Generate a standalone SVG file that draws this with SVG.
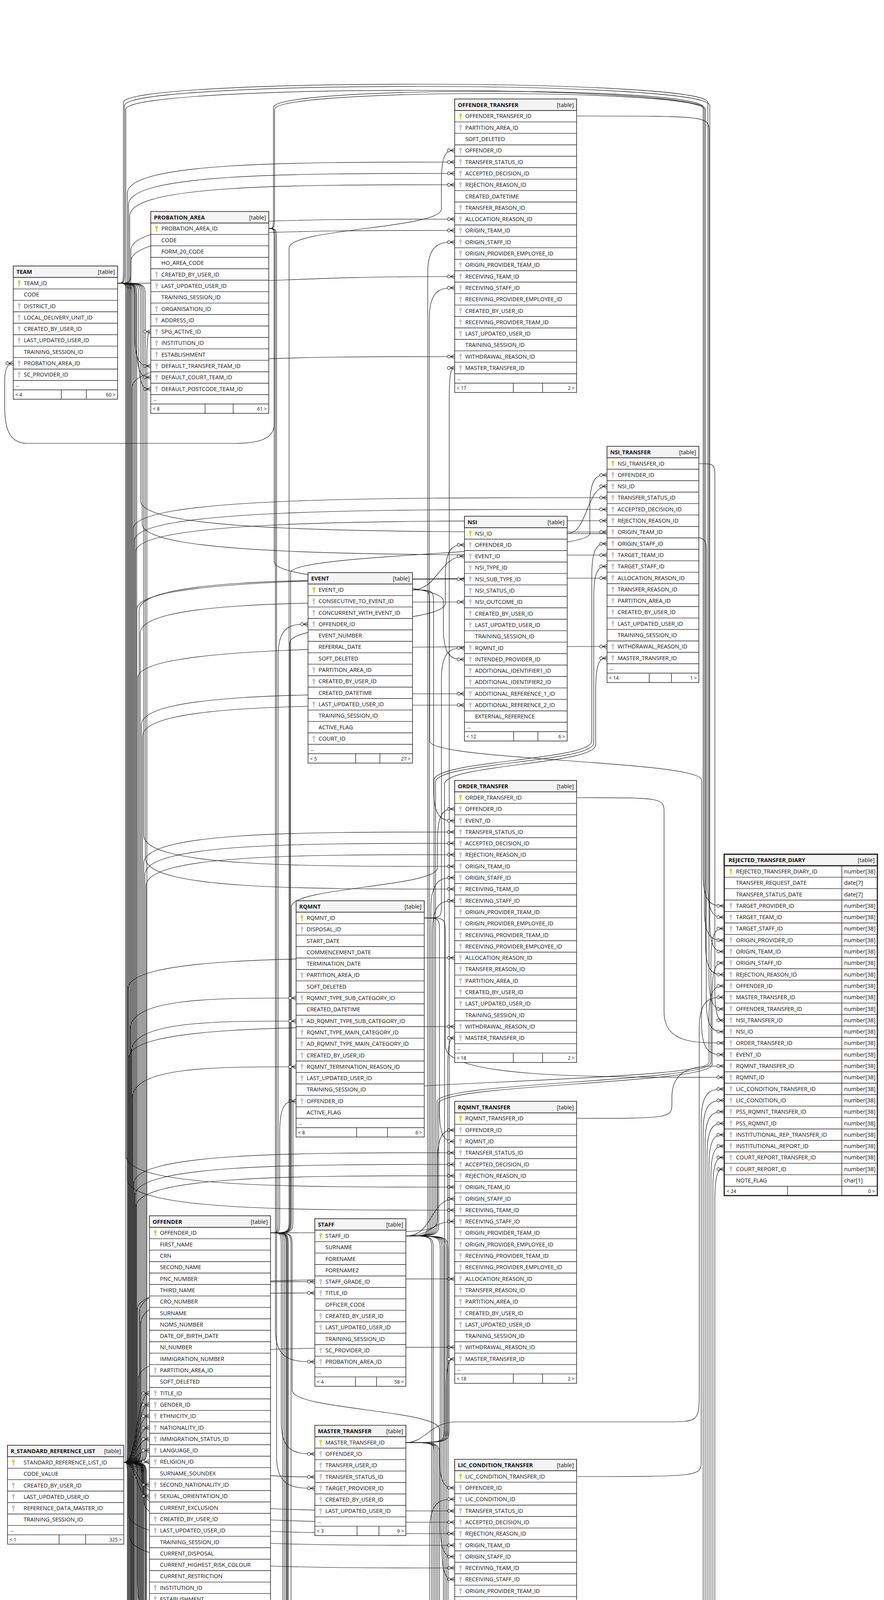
<svg xmlns="http://www.w3.org/2000/svg" width="2263" height="7231" viewBox="0 0 2263 7231">
<style>
.bx{fill:#fff;stroke:#222;stroke-width:1.5}
.hd{fill:#f4f4f4;stroke:#222;stroke-width:1.5}
.rl{fill:none;stroke:#222;stroke-width:1.4}
text{font-family:"Open Sans","Noto Sans","DejaVu Sans",sans-serif;fill:#111}
.tn{font-size:14.5px;font-weight:bold}
.tt{font-size:14.5px;text-anchor:end}
.c{font-size:14.5px}
.f{font-size:12.5px}
.e{text-anchor:end}
.cn path{fill:none;stroke:#111;stroke-width:1.2;marker-end:url(#cf)}
</style>
<defs>
<marker id="cf" markerUnits="userSpaceOnUse" orient="auto" markerWidth="30" markerHeight="20" viewBox="-22 -10 30 20" refX="0" refY="0" overflow="visible">
<path d="M-11 0L0 -5.5M-11 0H0M-11 0L0 5.5" fill="none" stroke="#111" stroke-width="1.2"/>
<circle cx="-15" cy="0" r="3.8" fill="#fff" stroke="#111" stroke-width="1.2"/>
</marker>
<g id="kp"><circle cx="0" cy="-3.6" r="3.1" fill="#e3e300" stroke="#a0a000" stroke-width=".7"/><path d="M-.9 -1h1.8v8.3h-1.8z" fill="#e3e300" stroke="#a0a000" stroke-width=".5"/></g>
<g id="kf"><circle cx="0" cy="-3.6" r="3.1" fill="#cfcfcf" stroke="#9c9c9c" stroke-width=".7"/><path d="M-.9 -1h1.8v8.3h-1.8z" fill="#cfcfcf" stroke="#9c9c9c" stroke-width=".5"/></g>
</defs>
<rect width="2263" height="7231" fill="#fff"/>

<g id="connectors" class="cn">
<path d="M693 3156C712 3156 712 3156 712 3116L712 1678C712 1598 750 1598 788 1598"/>
<path d="M693 3156C716 3156 716 3156 716 3116L716 2899C716 2819 737 2819 758 2819"/>
<path d="M693 3156C720 3156 720 3156 720 3196L720 3642C720 3722 763 3722 806 3722"/>
<path d="M693 3156C724 3156 724 3156 724 3196L724 4823C724 4903 756 4903 788 4903"/>
<path d="M693 3156C728 3156 728 3156 728 3196L728 5134C728 5214 755 5214 783 5214"/>
<path d="M693 3156C732 3156 732 3156 732 3196L732 5867C732 5947 760 5947 788 5947"/>
<path d="M693 3156C736 3156 736 3156 736 3196L736 6945C736 7025 750 7025 765 7025"/>
<path d="M693 3156C740 3156 740 3156 740 3116L740 635C740 585 1130 585 1130 535L1130 465C1130 385 1147 385 1164 385"/>
<path d="M693 3156C742 3156 742 3156 742 3116L742 1645C742 1595 1140 1595 1140 1545L1140 1475C1140 1395 1165 1395 1189 1395"/>
<path d="M693 3156C744 3156 744 3156 744 3116L744 1466C744 1416 1510 1416 1510 1366L1510 1296C1510 1216 1532 1216 1554 1216"/>
<path d="M693 3156C746 3156 746 3156 746 3116L746 2321C746 2271 1120 2271 1120 2221L1120 2151C1120 2071 1142 2071 1164 2071"/>
<path d="M693 3156C1120 3156 1120 3156 1120 3116L1120 2973C1120 2893 1142 2893 1164 2893"/>
<path d="M693 3156C748 3156 748 3156 748 3196L748 3559C748 3609 1125 3609 1125 3659L1125 3729C1125 3809 1145 3809 1164 3809"/>
<path d="M693 3156C745 3156 745 3156 745 3196L745 4345C745 4395 1150 4395 1150 4445L1150 4515C1150 4595 1175 4595 1200 4595"/>
<path d="M693 3156C738 3156 738 3156 738 3196L738 5286C738 5336 1110 5336 1110 5386L1110 5456C1110 5536 1131 5536 1152 5536"/>
<path d="M693 3156C734 3156 734 3156 734 3196L734 5863C734 5913 1130 5913 1130 5963L1130 6033C1130 6113 1157 6113 1185 6113"/>
<path d="M693 3156C750 3156 750 3156 750 3116L750 2820C750 2770 1815 2770 1815 2720L1815 2604C1815 2524 1835 2524 1854 2524"/>

<path d="M688 585C702 585 702 585 702 625L702 1085C702 1125 660 1135 600 1135L70 1135C25 1135 12 1100 12 1040L12 975C12 945 20 930 34 930"/>
<path d="M688 585C705 585 705 585 705 625L705 3406C705 3486 755 3486 806 3486"/>
<path d="M688 585C708 585 708 585 708 625L708 3730C708 3810 757 3810 806 3810"/>
<path d="M688 585C702 585 702 585 702 625L702 1438C702 1488 1135 1488 1135 1538L1135 1608C1135 1688 1162 1688 1189 1688"/>
<path d="M688 585C700 585 700 585 700 545L700 275C700 220 1800 220 1800 275L1800 2239C1800 2319 1827 2319 1854 2319"/>
<path d="M688 585C703 585 703 585 703 545L703 280C703 226 1803 226 1803 280L1803 2327C1803 2407 1829 2407 1854 2407"/>

<path d="M301 725C345 725 345 725 345 765L345 857C345 937 366 937 386 937"/>
<path d="M301 725C350 725 350 725 350 765L350 886C350 966 368 966 386 966"/>
<path d="M301 725C355 725 355 725 355 765L355 916C355 996 371 996 386 996"/>
<path d="M301 725C335 725 335 725 335 685L335 670C335 590 750 590 1164 590"/>
<path d="M301 725C733 725 733 708 1164 708"/>
<path d="M301 725C360 725 360 725 360 765L360 1282C360 1362 957 1362 1554 1362"/>
<path d="M301 725C364 725 364 725 364 765L364 1341C364 1421 959 1421 1554 1421"/>
<path d="M301 725C368 725 368 725 368 765L368 2138C368 2218 766 2218 1164 2218"/>
<path d="M301 725C372 725 372 725 372 765L372 2196C372 2276 768 2276 1164 2276"/>
<path d="M301 725C323 725 323 725 323 765L323 2959C323 3039 744 3039 1164 3039"/>
<path d="M301 725C326 725 326 725 326 765L326 3018C326 3098 745 3098 1164 3098"/>
<path d="M301 725C329 725 329 725 329 765L329 3876C329 3956 747 3956 1164 3956"/>
<path d="M301 725C332 725 332 725 332 765L332 3934C332 4014 748 4014 1164 4014"/>
<path d="M301 725C335 725 335 725 335 765L335 4661C335 4741 768 4741 1200 4741"/>
<path d="M301 725C338 725 338 725 338 765L338 4720C338 4800 769 4800 1200 4800"/>
<path d="M301 725C341 725 341 725 341 765L341 5603C341 5683 747 5683 1152 5683"/>
<path d="M301 725C344 725 344 725 344 765L344 5661C344 5741 748 5741 1152 5741"/>
<path d="M301 725C347 725 347 725 347 765L347 6180C347 6260 766 6260 1185 6260"/>
<path d="M301 725C350 725 350 725 350 765L350 6238C350 6318 768 6318 1185 6318"/>
<path d="M301 725C316 725 316 725 316 685L316 262C316 200 1812 200 1812 262L1812 2268C1812 2348 1833 2348 1854 2348"/>
<path d="M301 725C319 725 319 725 319 685L319 270C319 205 1817 205 1817 270L1817 2356C1817 2436 1836 2436 1854 2436"/>

<path d="M317 3744C376 3744 376 3744 376 3704L376 929C376 849 381 849 386 849"/>
<path d="M317 3744C326 3744 326 3744 326 3704L326 495C326 415 745 415 1164 415"/>
<path d="M317 3744C329 3744 329 3744 329 3704L329 524C329 444 747 444 1164 444"/>
<path d="M317 3744C332 3744 332 3744 332 3704L332 553C332 473 748 473 1164 473"/>
<path d="M317 3744C335 3744 335 3744 335 3704L335 641C335 561 750 561 1164 561"/>
<path d="M317 3744C338 3744 338 3744 338 3704L338 993C338 913 751 913 1164 913"/>
<path d="M317 3744C341 3744 341 3744 341 3704L341 1354C341 1274 948 1274 1554 1274"/>
<path d="M317 3744C344 3744 344 3744 344 3704L344 1384C344 1304 949 1304 1554 1304"/>
<path d="M317 3744C347 3744 347 3744 347 3704L347 1413C347 1333 951 1333 1554 1333"/>
<path d="M317 3744C350 3744 350 3744 350 3704L350 1560C350 1480 952 1480 1554 1480"/>
<path d="M317 3744C353 3744 353 3744 353 3704L353 1735C353 1655 954 1655 1554 1655"/>
<path d="M317 3744C356 3744 356 3744 356 3704L356 1563C356 1483 773 1483 1189 1483"/>
<path d="M317 3744C359 3744 359 3744 359 3704L359 1621C359 1541 774 1541 1189 1541"/>
<path d="M317 3744C362 3744 362 3744 362 3704L362 1856C362 1776 776 1776 1189 1776"/>
<path d="M317 3744C365 3744 365 3744 365 3704L365 1885C365 1805 777 1805 1189 1805"/>
<path d="M317 3744C368 3744 368 3744 368 3704L368 2210C368 2130 766 2130 1164 2130"/>
<path d="M317 3744C371 3744 371 3744 371 3704L371 2239C371 2159 768 2159 1164 2159"/>
<path d="M317 3744C374 3744 374 3744 374 3704L374 2268C374 2188 769 2188 1164 2188"/>
<path d="M317 3744C327 3744 327 3744 327 3704L327 2532C327 2452 746 2452 1164 2452"/>
<path d="M317 3744C330 3744 330 3744 330 3704L330 2708C330 2628 747 2628 1164 2628"/>
<path d="M317 3744C333 3744 333 3744 333 3704L333 2635C333 2555 546 2555 758 2555"/>
<path d="M317 3744C336 3744 336 3744 336 3704L336 2694C336 2614 547 2614 758 2614"/>
<path d="M317 3744C339 3744 339 3744 339 3704L339 2811C339 2731 549 2731 758 2731"/>
<path d="M317 3744C342 3744 342 3744 342 3704L342 3031C342 2951 753 2951 1164 2951"/>
<path d="M317 3744C345 3744 345 3744 345 3704L345 3061C345 2981 755 2981 1164 2981"/>
<path d="M317 3744C348 3744 348 3744 348 3704L348 3090C348 3010 756 3010 1164 3010"/>
<path d="M317 3744C351 3744 351 3744 351 3704L351 3354C351 3274 758 3274 1164 3274"/>
<path d="M317 3744C354 3744 354 3744 354 3704L354 3529C354 3449 759 3449 1164 3449"/>
<path d="M317 3744C357 3744 357 3744 357 3704L357 3361C357 3281 582 3281 806 3281"/>
<path d="M317 3744C360 3744 360 3744 360 3704L360 3390C360 3310 583 3310 806 3310"/>
<path d="M317 3744C322 3744 322 3744 322 3704L322 280C322 215 1806 215 1806 280L1806 2415C1806 2495 1830 2495 1854 2495"/>
<path d="M317 3744C560 3744 560 3781 806 3781"/>
<path d="M317 3744C363 3744 363 3744 363 3784L363 3788C363 3868 764 3868 1164 3868"/>
<path d="M317 3744C366 3744 366 3744 366 3784L366 3817C366 3897 765 3897 1164 3897"/>
<path d="M317 3744C369 3744 369 3744 369 3784L369 3846C369 3926 767 3926 1164 3926"/>
<path d="M317 3744C372 3744 372 3744 372 3784L372 4110C372 4190 768 4190 1164 4190"/>
<path d="M317 3744C375 3744 375 3744 375 3784L375 4286C375 4366 770 4366 1164 4366"/>
<path d="M317 3744C326 3744 326 3744 326 3784L326 4560C326 4640 557 4640 788 4640"/>
<path d="M317 3744C329 3744 329 3744 329 3784L329 4765C329 4845 559 4845 788 4845"/>
<path d="M317 3744C332 3744 332 3744 332 3784L332 4573C332 4653 766 4653 1200 4653"/>
<path d="M317 3744C335 3744 335 3744 335 3784L335 4603C335 4683 768 4683 1200 4683"/>
<path d="M317 3744C338 3744 338 3744 338 3784L338 4632C338 4712 769 4712 1200 4712"/>
<path d="M317 3744C341 3744 341 3744 341 3784L341 4779C341 4859 771 4859 1200 4859"/>
<path d="M317 3744C344 3744 344 3744 344 3784L344 4837C344 4917 772 4917 1200 4917"/>
<path d="M317 3744C347 3744 347 3744 347 3784L347 5105C347 5185 565 5185 783 5185"/>
<path d="M317 3744C350 3744 350 3744 350 3784L350 5662C350 5742 569 5742 788 5742"/>
<path d="M317 3744C353 3744 353 3744 353 3784L353 5515C353 5595 753 5595 1152 5595"/>
<path d="M317 3744C356 3744 356 3744 356 3784L356 5544C356 5624 754 5624 1152 5624"/>
<path d="M317 3744C359 3744 359 3744 359 3784L359 5573C359 5653 756 5653 1152 5653"/>
<path d="M317 3744C362 3744 362 3744 362 3784L362 5720C362 5800 757 5800 1152 5800"/>
<path d="M317 3744C365 3744 365 3744 365 3784L365 5779C365 5859 759 5859 1152 5859"/>
<path d="M317 3744C368 3744 368 3744 368 3784L368 6092C368 6172 777 6172 1185 6172"/>
<path d="M317 3744C371 3744 371 3744 371 3784L371 6121C371 6201 778 6201 1185 6201"/>
<path d="M317 3744C374 3744 374 3744 374 3784L374 6150C374 6230 780 6230 1185 6230"/>
<path d="M317 3744C327 3744 327 3744 327 3784L327 6297C327 6377 756 6377 1185 6377"/>
<path d="M317 3744C330 3744 330 3744 330 3784L330 6414C330 6494 758 6494 1185 6494"/>
<path d="M317 3744C333 3744 333 3744 333 3784L333 6711C333 6791 549 6791 765 6791"/>
<path d="M317 3744C336 3744 336 3744 336 3784L336 6740C336 6820 551 6820 765 6820"/>
<path d="M317 3744C339 3744 339 3744 339 3784L339 7004C339 7084 552 7084 765 7084"/>
<path d="M317 3744C342 3744 342 3744 342 3784L342 7033C342 7113 554 7113 765 7113"/>
<path d="M317 3744C352 3744 348 3567 382 3567"/>
<path d="M317 3744C352 3744 348 3596 382 3596"/>
<path d="M317 3744C352 3744 348 3625 382 3625"/>
<path d="M317 3744C352 3744 348 3655 382 3655"/>
<path d="M317 3744C352 3744 348 3684 382 3684"/>
<path d="M317 3744C352 3744 348 3713 382 3713"/>
<path d="M317 3744C352 3744 348 3742 382 3742"/>
<path d="M317 3744C352 3744 348 3801 382 3801"/>
<path d="M317 3744C352 3744 348 3830 382 3830"/>
<path d="M317 3744C352 3744 352 3744 352 3784L352 4043C352 4123 367 4123 382 4123"/>
<path d="M317 3744C355 3744 355 3744 355 3784L355 4073C355 4153 369 4153 382 4153"/>
<path d="M317 3744C358 3744 358 3744 358 3784L358 4102C358 4182 370 4182 382 4182"/>
<path d="M317 3744C361 3744 361 3744 361 3784L361 4161C361 4241 372 4241 382 4241"/>
<path d="M317 3744C364 3744 364 3744 364 3784L364 4190C364 4270 373 4270 382 4270"/>
<path d="M317 3744C367 3744 367 3744 367 3784L367 4219C367 4299 375 4299 382 4299"/>

<path d="M1039 3164C1095 3164 1095 3164 1095 3124L1095 700C1095 620 1130 620 1164 620"/>
<path d="M1039 3164C1099 3164 1099 3164 1099 3124L1099 817C1099 737 1132 737 1164 737"/>
<path d="M1039 3164C1103 3164 1103 3164 1103 3124L1103 2327C1103 2247 1134 2247 1164 2247"/>
<path d="M1039 3164C1107 3164 1107 3164 1107 3124L1107 2386C1107 2306 1136 2306 1164 2306"/>
<path d="M1039 3164C1110 3164 1100 3069 1164 3069"/>
<path d="M1039 3164C1110 3164 1100 3127 1164 3127"/>
<path d="M1039 3164C1111 3164 1111 3164 1111 3124L1111 1997C1111 1947 1515 1947 1515 1897L1515 1472C1515 1392 1535 1392 1554 1392"/>
<path d="M1039 3164C1115 3164 1115 3164 1115 3124L1115 2002C1115 1952 1520 1952 1520 1902L1520 1530C1520 1450 1537 1450 1554 1450"/>
<path d="M1039 3164C1119 3164 1119 3164 1119 3124L1119 2820C1119 2770 1820 2770 1820 2720L1820 2457C1820 2377 1837 2377 1854 2377"/>
<path d="M1039 3164C1123 3164 1123 3164 1123 3124L1123 2825C1123 2775 1823 2775 1823 2725L1823 2545C1823 2465 1838 2465 1854 2465"/>
<path d="M1039 3164C1127 3164 1127 3164 1127 3204L1127 3905C1127 3985 1146 3985 1164 3985"/>
<path d="M1039 3164C1131 3164 1131 3164 1131 3204L1131 3963C1131 4043 1148 4043 1164 4043"/>
<path d="M1039 3164C1135 3164 1135 3164 1135 3204L1135 4691C1135 4771 1168 4771 1200 4771"/>
<path d="M1039 3164C1139 3164 1139 3164 1139 3204L1139 4749C1139 4829 1170 4829 1200 4829"/>
<path d="M1039 3164C1105 3164 1105 3164 1105 3204L1105 5632C1105 5712 1128 5712 1152 5712"/>
<path d="M1039 3164C1109 3164 1109 3164 1109 3204L1109 5691C1109 5771 1130 5771 1152 5771"/>
<path d="M1039 3164C1143 3164 1143 3164 1143 3204L1143 6209C1143 6289 1164 6289 1185 6289"/>
<path d="M1039 3164C1147 3164 1147 3164 1147 3204L1147 6268C1147 6348 1166 6348 1185 6348"/>

<path d="M1039 3693C1150 3693 1150 3693 1150 3653L1150 1022C1150 942 1157 942 1164 942"/>
<path d="M1039 3693C1146 3693 1146 3693 1146 3653L1146 2737C1146 2657 1155 2657 1164 2657"/>
<path d="M1039 3693C1142 3693 1142 3693 1142 3653L1142 3559C1142 3479 1153 3479 1164 3479"/>
<path d="M1039 3693C1138 3693 1138 3693 1138 3653L1138 2007C1138 1957 1525 1957 1525 1907L1525 1765C1525 1685 1540 1685 1554 1685"/>
<path d="M1039 3693C1090 3693 1100 3640 1170 3640L1700 3640C1790 3640 1790 3640 1790 3560L1790 2633C1790 2553 1822 2553 1854 2553"/>
<path d="M1039 3693C1117 3693 1117 3693 1117 3733L1117 4315C1117 4395 1141 4395 1164 4395"/>
<path d="M1039 3693C1121 3693 1121 3693 1121 3733L1121 4866C1121 4946 1161 4946 1200 4946"/>
<path d="M1039 3693C1113 3693 1113 3693 1113 3733L1113 5808C1113 5888 1133 5888 1152 5888"/>
<path d="M1039 3693C1125 3693 1125 3693 1125 3733L1125 6443C1125 6523 1155 6523 1185 6523"/>

<path d="M1056 1510C1120 1510 1125 1424 1189 1424"/>
<path d="M1056 1510C1110 1510 1110 1510 1110 1550L1110 2021C1110 2101 1137 2101 1164 2101"/>
<path d="M1056 1510C1100 1510 1100 1510 1100 1550L1100 1897C1100 1947 1796 1947 1796 1997L1796 2620C1796 2700 1825 2700 1854 2700"/>
<path d="M1086 2350C1130 2350 1130 2350 1130 2310L1130 1739C1130 1659 1160 1659 1189 1659"/>
<path d="M1086 2350C1125 2350 1125 2350 1125 2390L1125 2842C1125 2922 1145 2922 1164 2922"/>
<path d="M1086 2350C1140 2350 1140 2350 1140 2390L1140 2678C1140 2758 1497 2758 1854 2758"/>
<path d="M1056 4435C1100 4435 1100 4435 1100 4395L1100 3918C1100 3838 1132 3838 1164 3838"/>
<path d="M1056 4435C1100 4435 1110 4489 1180 4489L1700 4489C1800 4489 1800 4489 1800 4400L1800 2897C1800 2817 1827 2817 1854 2817"/>
<path d="M1062 5068C1160 5068 1160 5068 1160 5028L1160 4704C1160 4624 1180 4624 1200 4624"/>
<path d="M1062 5068C1110 5068 1120 5150 1200 5150L1700 5150C1810 5150 1810 5150 1810 5060L1810 2956C1810 2876 1832 2876 1854 2876"/>
<path d="M1056 5566L1152 5566"/>
<path d="M1056 5566C1110 5566 1100 5420 1250 5330C1400 5250 1820 5230 1820 5100L1820 3014C1820 2934 1837 2934 1854 2934"/>
<path d="M1078 6585C1160 6585 1160 6585 1160 6545L1160 6223C1160 6143 1172 6143 1185 6143"/>
<path d="M1078 6585C1200 6585 1300 6640 1500 6620C1700 6600 1830 6550 1830 6400L1830 3073C1830 2993 1842 2993 1854 2993"/>
<path d="M1452 1366C1505 1366 1500 1245 1554 1245"/>
<path d="M1452 1366C1808 1366 1808 1366 1808 1406L1808 2561C1808 2641 1831 2641 1854 2641"/>
<path d="M1476 297C1815 297 1815 297 1815 337L1815 2503C1815 2583 1835 2583 1854 2583"/>
<path d="M1789 1187C1830 1187 1830 1187 1830 1227L1830 2532C1830 2612 1842 2612 1854 2612"/>
<path d="M1476 2042C1700 2042 1700 2042 1700 2082L1700 2590C1700 2670 1777 2670 1854 2670"/>
<path d="M1476 2863C1720 2863 1720 2863 1720 2823L1720 2809C1720 2729 1787 2729 1854 2729"/>
<path d="M1476 3780C1795 3780 1795 3780 1795 3740L1795 2868C1795 2788 1825 2788 1854 2788"/>
<path d="M1440 4566C1805 4566 1805 4566 1805 4526L1805 2926C1805 2846 1830 2846 1854 2846"/>
<path d="M1489 5507C1815 5507 1815 5507 1815 5467L1815 2985C1815 2905 1835 2905 1854 2905"/>
<path d="M1454 6084C1825 6084 1825 6084 1825 6044L1825 3043C1825 2963 1840 2963 1854 2963"/>
</g>

<g id="t-team" transform="translate(34 681)">
<rect class="bx" width="267" height="341"/><rect class="hd" width="267" height="29.3"/>
<text class="tn" x="8" y="20">TEAM</text><text class="tt" x="260" y="20">[table]</text>
<path class="rl" d="M0 29.3h267m-267 29.3h267m-267 29.3h267m-267 29.3h267m-267 29.3h267m-267 29.3h267m-267 29.3h267m-267 29.3h267m-267 29.3h267m-267 29.3h267M0 317h267M123 317v24M187 317v24"/>
<use href="#kp" x="15" y="43.95"/><use href="#kf" x="15" y="102.55"/><use href="#kf" x="15" y="131.85"/><use href="#kf" x="15" y="161.15"/><use href="#kf" x="15" y="190.45"/><use href="#kf" x="15" y="249.05"/><use href="#kf" x="15" y="278.35"/>
<text class="c"><tspan x="27" y="48.95">TEAM_ID</tspan><tspan x="27" dy="29.3">CODE</tspan><tspan x="27" dy="29.3">DISTRICT_ID</tspan><tspan x="27" dy="29.3">LOCAL_DELIVERY_UNIT_ID</tspan><tspan x="27" dy="29.3">CREATED_BY_USER_ID</tspan><tspan x="27" dy="29.3">LAST_UPDATED_USER_ID</tspan><tspan x="27" dy="29.3">TRAINING_SESSION_ID</tspan><tspan x="27" dy="29.3">PROBATION_AREA_ID</tspan><tspan x="27" dy="29.3">SC_PROVIDER_ID</tspan></text>
<text class="f" x="6" y="309">...</text><text class="f" x="5" y="334">&lt; 4</text><text class="f e" x="262" y="334">60 &gt;</text>
</g>

<g id="t-probation_area" transform="translate(386 541.5)">
<rect class="bx" width="302" height="516.8"/><rect class="hd" width="302" height="29.3"/>
<text class="tn" x="8" y="20">PROBATION_AREA</text><text class="tt" x="295" y="20">[table]</text>
<path class="rl" d="M0 29.3h302m-302 29.3h302m-302 29.3h302m-302 29.3h302m-302 29.3h302m-302 29.3h302m-302 29.3h302m-302 29.3h302m-302 29.3h302m-302 29.3h302m-302 29.3h302m-302 29.3h302m-302 29.3h302m-302 29.3h302m-302 29.3h302m-302 29.3h302M0 492.8h302M139 492.8v24M211 492.8v24"/>
<use href="#kp" x="15" y="43.95"/><use href="#kf" x="15" y="161.15"/><use href="#kf" x="15" y="190.45"/><use href="#kf" x="15" y="249.05"/><use href="#kf" x="15" y="278.35"/><use href="#kf" x="15" y="307.65"/><use href="#kf" x="15" y="336.95"/><use href="#kf" x="15" y="366.25"/><use href="#kf" x="15" y="395.55"/><use href="#kf" x="15" y="424.85"/><use href="#kf" x="15" y="454.15"/>
<text class="c"><tspan x="27" y="48.95">PROBATION_AREA_ID</tspan><tspan x="27" dy="29.3">CODE</tspan><tspan x="27" dy="29.3">FORM_20_CODE</tspan><tspan x="27" dy="29.3">HO_AREA_CODE</tspan><tspan x="27" dy="29.3">CREATED_BY_USER_ID</tspan><tspan x="27" dy="29.3">LAST_UPDATED_USER_ID</tspan><tspan x="27" dy="29.3">TRAINING_SESSION_ID</tspan><tspan x="27" dy="29.3">ORGANISATION_ID</tspan><tspan x="27" dy="29.3">ADDRESS_ID</tspan><tspan x="27" dy="29.3">SPG_ACTIVE_ID</tspan><tspan x="27" dy="29.3">INSTITUTION_ID</tspan><tspan x="27" dy="29.3">ESTABLISHMENT</tspan><tspan x="27" dy="29.3">DEFAULT_TRANSFER_TEAM_ID</tspan><tspan x="27" dy="29.3">DEFAULT_COURT_TEAM_ID</tspan><tspan x="27" dy="29.3">DEFAULT_POSTCODE_TEAM_ID</tspan></text>
<text class="f" x="6" y="484.8">...</text><text class="f" x="5" y="509.8">&lt; 8</text><text class="f e" x="297" y="509.8">61 &gt;</text>
</g>

<g id="t-offender_transfer" transform="translate(1164 253.5)">
<rect class="bx" width="312" height="751.2"/><rect class="hd" width="312" height="29.3"/>
<text class="tn" x="8" y="20">OFFENDER_TRANSFER</text><text class="tt" x="305" y="20">[table]</text>
<path class="rl" d="M0 29.3h312m-312 29.3h312m-312 29.3h312m-312 29.3h312m-312 29.3h312m-312 29.3h312m-312 29.3h312m-312 29.3h312m-312 29.3h312m-312 29.3h312m-312 29.3h312m-312 29.3h312m-312 29.3h312m-312 29.3h312m-312 29.3h312m-312 29.3h312m-312 29.3h312m-312 29.3h312m-312 29.3h312m-312 29.3h312m-312 29.3h312m-312 29.3h312m-312 29.3h312m-312 29.3h312M0 727.2h312M150 727.2v24M225 727.2v24"/>
<use href="#kp" x="15" y="43.95"/><use href="#kf" x="15" y="73.25"/><use href="#kf" x="15" y="131.85"/><use href="#kf" x="15" y="161.15"/><use href="#kf" x="15" y="190.45"/><use href="#kf" x="15" y="219.75"/><use href="#kf" x="15" y="278.35"/><use href="#kf" x="15" y="307.65"/><use href="#kf" x="15" y="336.95"/><use href="#kf" x="15" y="366.25"/><use href="#kf" x="15" y="395.55"/><use href="#kf" x="15" y="424.85"/><use href="#kf" x="15" y="454.15"/><use href="#kf" x="15" y="483.45"/><use href="#kf" x="15" y="512.75"/><use href="#kf" x="15" y="542.05"/><use href="#kf" x="15" y="571.35"/><use href="#kf" x="15" y="600.65"/><use href="#kf" x="15" y="659.25"/><use href="#kf" x="15" y="688.55"/>
<text class="c"><tspan x="27" y="48.95">OFFENDER_TRANSFER_ID</tspan><tspan x="27" dy="29.3">PARTITION_AREA_ID</tspan><tspan x="27" dy="29.3">SOFT_DELETED</tspan><tspan x="27" dy="29.3">OFFENDER_ID</tspan><tspan x="27" dy="29.3">TRANSFER_STATUS_ID</tspan><tspan x="27" dy="29.3">ACCEPTED_DECISION_ID</tspan><tspan x="27" dy="29.3">REJECTION_REASON_ID</tspan><tspan x="27" dy="29.3">CREATED_DATETIME</tspan><tspan x="27" dy="29.3">TRANSFER_REASON_ID</tspan><tspan x="27" dy="29.3">ALLOCATION_REASON_ID</tspan><tspan x="27" dy="29.3">ORIGIN_TEAM_ID</tspan><tspan x="27" dy="29.3">ORIGIN_STAFF_ID</tspan><tspan x="27" dy="29.3">ORIGIN_PROVIDER_EMPLOYEE_ID</tspan><tspan x="27" dy="29.3">ORIGIN_PROVIDER_TEAM_ID</tspan><tspan x="27" dy="29.3">RECEIVING_TEAM_ID</tspan><tspan x="27" dy="29.3">RECEIVING_STAFF_ID</tspan><tspan x="27" dy="29.3">RECEIVING_PROVIDER_EMPLOYEE_ID</tspan><tspan x="27" dy="29.3">CREATED_BY_USER_ID</tspan><tspan x="27" dy="29.3">RECEIVING_PROVIDER_TEAM_ID</tspan><tspan x="27" dy="29.3">LAST_UPDATED_USER_ID</tspan><tspan x="27" dy="29.3">TRAINING_SESSION_ID</tspan><tspan x="27" dy="29.3">WITHDRAWAL_REASON_ID</tspan><tspan x="27" dy="29.3">MASTER_TRANSFER_ID</tspan></text>
<text class="f" x="6" y="719.2">...</text><text class="f" x="5" y="744.2">&lt; 17</text><text class="f e" x="307" y="744.2">2 &gt;</text>
</g>

<g id="t-nsi" transform="translate(1189 1321.6)">
<rect class="bx" width="263" height="575.4"/><rect class="hd" width="263" height="29.3"/>
<text class="tn" x="8" y="20">NSI</text><text class="tt" x="256" y="20">[table]</text>
<path class="rl" d="M0 29.3h263m-263 29.3h263m-263 29.3h263m-263 29.3h263m-263 29.3h263m-263 29.3h263m-263 29.3h263m-263 29.3h263m-263 29.3h263m-263 29.3h263m-263 29.3h263m-263 29.3h263m-263 29.3h263m-263 29.3h263m-263 29.3h263m-263 29.3h263m-263 29.3h263m-263 29.3h263M0 551.4h263M126 551.4v24M188 551.4v24"/>
<use href="#kp" x="15" y="43.95"/><use href="#kf" x="15" y="73.25"/><use href="#kf" x="15" y="102.55"/><use href="#kf" x="15" y="131.85"/><use href="#kf" x="15" y="161.15"/><use href="#kf" x="15" y="190.45"/><use href="#kf" x="15" y="219.75"/><use href="#kf" x="15" y="249.05"/><use href="#kf" x="15" y="278.35"/><use href="#kf" x="15" y="336.95"/><use href="#kf" x="15" y="366.25"/><use href="#kf" x="15" y="395.55"/><use href="#kf" x="15" y="424.85"/><use href="#kf" x="15" y="454.15"/><use href="#kf" x="15" y="483.45"/>
<text class="c"><tspan x="27" y="48.95">NSI_ID</tspan><tspan x="27" dy="29.3">OFFENDER_ID</tspan><tspan x="27" dy="29.3">EVENT_ID</tspan><tspan x="27" dy="29.3">NSI_TYPE_ID</tspan><tspan x="27" dy="29.3">NSI_SUB_TYPE_ID</tspan><tspan x="27" dy="29.3">NSI_STATUS_ID</tspan><tspan x="27" dy="29.3">NSI_OUTCOME_ID</tspan><tspan x="27" dy="29.3">CREATED_BY_USER_ID</tspan><tspan x="27" dy="29.3">LAST_UPDATED_USER_ID</tspan><tspan x="27" dy="29.3">TRAINING_SESSION_ID</tspan><tspan x="27" dy="29.3">RQMNT_ID</tspan><tspan x="27" dy="29.3">INTENDED_PROVIDER_ID</tspan><tspan x="27" dy="29.3">ADDITIONAL_IDENTIFIER1_ID</tspan><tspan x="27" dy="29.3">ADDITIONAL_IDENTIFIER2_ID</tspan><tspan x="27" dy="29.3">ADDITIONAL_REFERENCE_1_ID</tspan><tspan x="27" dy="29.3">ADDITIONAL_REFERENCE_2_ID</tspan><tspan x="27" dy="29.3">EXTERNAL_REFERENCE</tspan></text>
<text class="f" x="6" y="543.4">...</text><text class="f" x="5" y="568.4">&lt; 12</text><text class="f e" x="258" y="568.4">6 &gt;</text>
</g>

<g id="t-nsi_transfer" transform="translate(1554 1142.6)">
<rect class="bx" width="235" height="604.7"/><rect class="hd" width="235" height="29.3"/>
<text class="tn" x="8" y="20">NSI_TRANSFER</text><text class="tt" x="228" y="20">[table]</text>
<path class="rl" d="M0 29.3h235m-235 29.3h235m-235 29.3h235m-235 29.3h235m-235 29.3h235m-235 29.3h235m-235 29.3h235m-235 29.3h235m-235 29.3h235m-235 29.3h235m-235 29.3h235m-235 29.3h235m-235 29.3h235m-235 29.3h235m-235 29.3h235m-235 29.3h235m-235 29.3h235m-235 29.3h235m-235 29.3h235M0 580.7h235M108 580.7v24M165 580.7v24"/>
<use href="#kp" x="15" y="43.95"/><use href="#kf" x="15" y="73.25"/><use href="#kf" x="15" y="102.55"/><use href="#kf" x="15" y="131.85"/><use href="#kf" x="15" y="161.15"/><use href="#kf" x="15" y="190.45"/><use href="#kf" x="15" y="219.75"/><use href="#kf" x="15" y="249.05"/><use href="#kf" x="15" y="278.35"/><use href="#kf" x="15" y="307.65"/><use href="#kf" x="15" y="336.95"/><use href="#kf" x="15" y="366.25"/><use href="#kf" x="15" y="395.55"/><use href="#kf" x="15" y="424.85"/><use href="#kf" x="15" y="454.15"/><use href="#kf" x="15" y="512.75"/><use href="#kf" x="15" y="542.05"/>
<text class="c"><tspan x="27" y="48.95">NSI_TRANSFER_ID</tspan><tspan x="27" dy="29.3">OFFENDER_ID</tspan><tspan x="27" dy="29.3">NSI_ID</tspan><tspan x="27" dy="29.3">TRANSFER_STATUS_ID</tspan><tspan x="27" dy="29.3">ACCEPTED_DECISION_ID</tspan><tspan x="27" dy="29.3">REJECTION_REASON_ID</tspan><tspan x="27" dy="29.3">ORIGIN_TEAM_ID</tspan><tspan x="27" dy="29.3">ORIGIN_STAFF_ID</tspan><tspan x="27" dy="29.3">TARGET_TEAM_ID</tspan><tspan x="27" dy="29.3">TARGET_STAFF_ID</tspan><tspan x="27" dy="29.3">ALLOCATION_REASON_ID</tspan><tspan x="27" dy="29.3">TRANSFER_REASON_ID</tspan><tspan x="27" dy="29.3">PARTITION_AREA_ID</tspan><tspan x="27" dy="29.3">CREATED_BY_USER_ID</tspan><tspan x="27" dy="29.3">LAST_UPDATED_USER_ID</tspan><tspan x="27" dy="29.3">TRAINING_SESSION_ID</tspan><tspan x="27" dy="29.3">WITHDRAWAL_REASON_ID</tspan><tspan x="27" dy="29.3">MASTER_TRANSFER_ID</tspan></text>
<text class="f" x="6" y="572.7">...</text><text class="f" x="5" y="597.7">&lt; 14</text><text class="f e" x="230" y="597.7">1 &gt;</text>
</g>

<g id="t-event" transform="translate(788.5 1466)">
<rect class="bx" width="267.5" height="487.5"/><rect class="hd" width="267.5" height="29.3"/>
<text class="tn" x="8" y="20">EVENT</text><text class="tt" x="260.5" y="20">[table]</text>
<path class="rl" d="M0 29.3h267.5m-267.5 29.3h267.5m-267.5 29.3h267.5m-267.5 29.3h267.5m-267.5 29.3h267.5m-267.5 29.3h267.5m-267.5 29.3h267.5m-267.5 29.3h267.5m-267.5 29.3h267.5m-267.5 29.3h267.5m-267.5 29.3h267.5m-267.5 29.3h267.5m-267.5 29.3h267.5m-267.5 29.3h267.5m-267.5 29.3h267.5M0 463.5h267.5M122 463.5v24M184 463.5v24"/>
<use href="#kp" x="15" y="43.95"/><use href="#kf" x="15" y="73.25"/><use href="#kf" x="15" y="102.55"/><use href="#kf" x="15" y="131.85"/><use href="#kf" x="15" y="249.05"/><use href="#kf" x="15" y="278.35"/><use href="#kf" x="15" y="336.95"/><use href="#kf" x="15" y="424.85"/>
<text class="c"><tspan x="27" y="48.95">EVENT_ID</tspan><tspan x="27" dy="29.3">CONSECUTIVE_TO_EVENT_ID</tspan><tspan x="27" dy="29.3">CONCURRENT_WITH_EVENT_ID</tspan><tspan x="27" dy="29.3">OFFENDER_ID</tspan><tspan x="27" dy="29.3">EVENT_NUMBER</tspan><tspan x="27" dy="29.3">REFERRAL_DATE</tspan><tspan x="27" dy="29.3">SOFT_DELETED</tspan><tspan x="27" dy="29.3">PARTITION_AREA_ID</tspan><tspan x="27" dy="29.3">CREATED_BY_USER_ID</tspan><tspan x="27" dy="29.3">CREATED_DATETIME</tspan><tspan x="27" dy="29.3">LAST_UPDATED_USER_ID</tspan><tspan x="27" dy="29.3">TRAINING_SESSION_ID</tspan><tspan x="27" dy="29.3">ACTIVE_FLAG</tspan><tspan x="27" dy="29.3">COURT_ID</tspan></text>
<text class="f" x="6" y="455.5">...</text><text class="f" x="5" y="480.5">&lt; 5</text><text class="f e" x="262.5" y="480.5">27 &gt;</text>
</g>

<g id="t-order_transfer" transform="translate(1164 1998)">
<rect class="bx" width="312" height="721.9"/><rect class="hd" width="312" height="29.3"/>
<text class="tn" x="8" y="20">ORDER_TRANSFER</text><text class="tt" x="305" y="20">[table]</text>
<path class="rl" d="M0 29.3h312m-312 29.3h312m-312 29.3h312m-312 29.3h312m-312 29.3h312m-312 29.3h312m-312 29.3h312m-312 29.3h312m-312 29.3h312m-312 29.3h312m-312 29.3h312m-312 29.3h312m-312 29.3h312m-312 29.3h312m-312 29.3h312m-312 29.3h312m-312 29.3h312m-312 29.3h312m-312 29.3h312m-312 29.3h312m-312 29.3h312m-312 29.3h312m-312 29.3h312M0 697.9h312M150 697.9v24M225 697.9v24"/>
<use href="#kp" x="15" y="43.95"/><use href="#kf" x="15" y="73.25"/><use href="#kf" x="15" y="102.55"/><use href="#kf" x="15" y="131.85"/><use href="#kf" x="15" y="161.15"/><use href="#kf" x="15" y="190.45"/><use href="#kf" x="15" y="219.75"/><use href="#kf" x="15" y="249.05"/><use href="#kf" x="15" y="278.35"/><use href="#kf" x="15" y="307.65"/><use href="#kf" x="15" y="336.95"/><use href="#kf" x="15" y="366.25"/><use href="#kf" x="15" y="395.55"/><use href="#kf" x="15" y="424.85"/><use href="#kf" x="15" y="454.15"/><use href="#kf" x="15" y="483.45"/><use href="#kf" x="15" y="512.75"/><use href="#kf" x="15" y="542.05"/><use href="#kf" x="15" y="571.35"/><use href="#kf" x="15" y="629.95"/><use href="#kf" x="15" y="659.25"/>
<text class="c"><tspan x="27" y="48.95">ORDER_TRANSFER_ID</tspan><tspan x="27" dy="29.3">OFFENDER_ID</tspan><tspan x="27" dy="29.3">EVENT_ID</tspan><tspan x="27" dy="29.3">TRANSFER_STATUS_ID</tspan><tspan x="27" dy="29.3">ACCEPTED_DECISION_ID</tspan><tspan x="27" dy="29.3">REJECTION_REASON_ID</tspan><tspan x="27" dy="29.3">ORIGIN_TEAM_ID</tspan><tspan x="27" dy="29.3">ORIGIN_STAFF_ID</tspan><tspan x="27" dy="29.3">RECEIVING_TEAM_ID</tspan><tspan x="27" dy="29.3">RECEIVING_STAFF_ID</tspan><tspan x="27" dy="29.3">ORIGIN_PROVIDER_TEAM_ID</tspan><tspan x="27" dy="29.3">ORIGIN_PROVIDER_EMPLOYEE_ID</tspan><tspan x="27" dy="29.3">RECEIVING_PROVIDER_TEAM_ID</tspan><tspan x="27" dy="29.3">RECEIVING_PROVIDER_EMPLOYEE_ID</tspan><tspan x="27" dy="29.3">ALLOCATION_REASON_ID</tspan><tspan x="27" dy="29.3">TRANSFER_REASON_ID</tspan><tspan x="27" dy="29.3">PARTITION_AREA_ID</tspan><tspan x="27" dy="29.3">CREATED_BY_USER_ID</tspan><tspan x="27" dy="29.3">LAST_UPDATED_USER_ID</tspan><tspan x="27" dy="29.3">TRAINING_SESSION_ID</tspan><tspan x="27" dy="29.3">WITHDRAWAL_REASON_ID</tspan><tspan x="27" dy="29.3">MASTER_TRANSFER_ID</tspan></text>
<text class="f" x="6" y="689.9">...</text><text class="f" x="5" y="714.9">&lt; 18</text><text class="f e" x="307" y="714.9">2 &gt;</text>
</g>

<g id="t-rqmnt" transform="translate(758 2306)">
<rect class="bx" width="328" height="604.7"/><rect class="hd" width="328" height="29.3"/>
<text class="tn" x="8" y="20">RQMNT</text><text class="tt" x="321" y="20">[table]</text>
<path class="rl" d="M0 29.3h328m-328 29.3h328m-328 29.3h328m-328 29.3h328m-328 29.3h328m-328 29.3h328m-328 29.3h328m-328 29.3h328m-328 29.3h328m-328 29.3h328m-328 29.3h328m-328 29.3h328m-328 29.3h328m-328 29.3h328m-328 29.3h328m-328 29.3h328m-328 29.3h328m-328 29.3h328m-328 29.3h328M0 580.7h328M155 580.7v24M234 580.7v24"/>
<use href="#kp" x="15" y="43.95"/><use href="#kf" x="15" y="73.25"/><use href="#kf" x="15" y="190.45"/><use href="#kf" x="15" y="249.05"/><use href="#kf" x="15" y="307.65"/><use href="#kf" x="15" y="336.95"/><use href="#kf" x="15" y="366.25"/><use href="#kf" x="15" y="395.55"/><use href="#kf" x="15" y="424.85"/><use href="#kf" x="15" y="454.15"/><use href="#kf" x="15" y="512.75"/>
<text class="c"><tspan x="27" y="48.95">RQMNT_ID</tspan><tspan x="27" dy="29.3">DISPOSAL_ID</tspan><tspan x="27" dy="29.3">START_DATE</tspan><tspan x="27" dy="29.3">COMMENCEMENT_DATE</tspan><tspan x="27" dy="29.3">TERMINATION_DATE</tspan><tspan x="27" dy="29.3">PARTITION_AREA_ID</tspan><tspan x="27" dy="29.3">SOFT_DELETED</tspan><tspan x="27" dy="29.3">RQMNT_TYPE_SUB_CATEGORY_ID</tspan><tspan x="27" dy="29.3">CREATED_DATETIME</tspan><tspan x="27" dy="29.3">AD_RQMNT_TYPE_SUB_CATEGORY_ID</tspan><tspan x="27" dy="29.3">RQMNT_TYPE_MAIN_CATEGORY_ID</tspan><tspan x="27" dy="29.3">AD_RQMNT_TYPE_MAIN_CATEGORY_ID</tspan><tspan x="27" dy="29.3">CREATED_BY_USER_ID</tspan><tspan x="27" dy="29.3">RQMNT_TERMINATION_REASON_ID</tspan><tspan x="27" dy="29.3">LAST_UPDATED_USER_ID</tspan><tspan x="27" dy="29.3">TRAINING_SESSION_ID</tspan><tspan x="27" dy="29.3">OFFENDER_ID</tspan><tspan x="27" dy="29.3">ACTIVE_FLAG</tspan></text>
<text class="f" x="6" y="572.7">...</text><text class="f" x="5" y="597.7">&lt; 8</text><text class="f e" x="323" y="597.7">6 &gt;</text>
</g>

<g id="t-rejected_transfer_diary" transform="translate(1854 2187)">
<rect class="bx" width="392" height="873.7" style="stroke-width:3"/><rect class="hd" width="392" height="29.3" style="stroke-width:3"/>
<text class="tn" x="11" y="20">REJECTED_TRANSFER_DIARY</text><text class="tt" x="385" y="20">[table]</text>
<path class="rl" d="M0 29.3h392m-392 29.3h392m-392 29.3h392m-392 29.3h392m-392 29.3h392m-392 29.3h392m-392 29.3h392m-392 29.3h392m-392 29.3h392m-392 29.3h392m-392 29.3h392m-392 29.3h392m-392 29.3h392m-392 29.3h392m-392 29.3h392m-392 29.3h392m-392 29.3h392m-392 29.3h392m-392 29.3h392m-392 29.3h392m-392 29.3h392m-392 29.3h392m-392 29.3h392m-392 29.3h392m-392 29.3h392m-392 29.3h392m-392 29.3h392m-392 29.3h392m-392 29.3h392M301 29.3V873.7M162 849.7v24"/>
<use href="#kp" x="17" y="43.95"/><use href="#kf" x="17" y="131.85"/><use href="#kf" x="17" y="161.15"/><use href="#kf" x="17" y="190.45"/><use href="#kf" x="17" y="219.75"/><use href="#kf" x="17" y="249.05"/><use href="#kf" x="17" y="278.35"/><use href="#kf" x="17" y="307.65"/><use href="#kf" x="17" y="336.95"/><use href="#kf" x="17" y="366.25"/><use href="#kf" x="17" y="395.55"/><use href="#kf" x="17" y="424.85"/><use href="#kf" x="17" y="454.15"/><use href="#kf" x="17" y="483.45"/><use href="#kf" x="17" y="512.75"/><use href="#kf" x="17" y="542.05"/><use href="#kf" x="17" y="571.35"/><use href="#kf" x="17" y="600.65"/><use href="#kf" x="17" y="629.95"/><use href="#kf" x="17" y="659.25"/><use href="#kf" x="17" y="688.55"/><use href="#kf" x="17" y="717.85"/><use href="#kf" x="17" y="747.15"/><use href="#kf" x="17" y="776.45"/><use href="#kf" x="17" y="805.75"/>
<text class="c"><tspan x="30" y="48.95">REJECTED_TRANSFER_DIARY_ID</tspan><tspan x="30" dy="29.3">TRANSFER_REQUEST_DATE</tspan><tspan x="30" dy="29.3">TRANSFER_STATUS_DATE</tspan><tspan x="30" dy="29.3">TARGET_PROVIDER_ID</tspan><tspan x="30" dy="29.3">TARGET_TEAM_ID</tspan><tspan x="30" dy="29.3">TARGET_STAFF_ID</tspan><tspan x="30" dy="29.3">ORIGIN_PROVIDER_ID</tspan><tspan x="30" dy="29.3">ORIGIN_TEAM_ID</tspan><tspan x="30" dy="29.3">ORIGIN_STAFF_ID</tspan><tspan x="30" dy="29.3">REJECTION_REASON_ID</tspan><tspan x="30" dy="29.3">OFFENDER_ID</tspan><tspan x="30" dy="29.3">MASTER_TRANSFER_ID</tspan><tspan x="30" dy="29.3">OFFENDER_TRANSFER_ID</tspan><tspan x="30" dy="29.3">NSI_TRANSFER_ID</tspan><tspan x="30" dy="29.3">NSI_ID</tspan><tspan x="30" dy="29.3">ORDER_TRANSFER_ID</tspan><tspan x="30" dy="29.3">EVENT_ID</tspan><tspan x="30" dy="29.3">RQMNT_TRANSFER_ID</tspan><tspan x="30" dy="29.3">RQMNT_ID</tspan><tspan x="30" dy="29.3">LIC_CONDITION_TRANSFER_ID</tspan><tspan x="30" dy="29.3">LIC_CONDITION_ID</tspan><tspan x="30" dy="29.3">PSS_RQMNT_TRANSFER_ID</tspan><tspan x="30" dy="29.3">PSS_RQMNT_ID</tspan><tspan x="30" dy="29.3">INSTITUTIONAL_REP_TRANSFER_ID</tspan><tspan x="30" dy="29.3">INSTITUTIONAL_REPORT_ID</tspan><tspan x="30" dy="29.3">COURT_REPORT_TRANSFER_ID</tspan><tspan x="30" dy="29.3">COURT_REPORT_ID</tspan><tspan x="30" dy="29.3">NOTE_FLAG</tspan></text>
<text class="c"><tspan x="307" y="48.95">number[38]</tspan><tspan x="307" dy="29.3">date[7]</tspan><tspan x="307" dy="29.3">date[7]</tspan><tspan x="307" dy="29.3">number[38]</tspan><tspan x="307" dy="29.3">number[38]</tspan><tspan x="307" dy="29.3">number[38]</tspan><tspan x="307" dy="29.3">number[38]</tspan><tspan x="307" dy="29.3">number[38]</tspan><tspan x="307" dy="29.3">number[38]</tspan><tspan x="307" dy="29.3">number[38]</tspan><tspan x="307" dy="29.3">number[38]</tspan><tspan x="307" dy="29.3">number[38]</tspan><tspan x="307" dy="29.3">number[38]</tspan><tspan x="307" dy="29.3">number[38]</tspan><tspan x="307" dy="29.3">number[38]</tspan><tspan x="307" dy="29.3">number[38]</tspan><tspan x="307" dy="29.3">number[38]</tspan><tspan x="307" dy="29.3">number[38]</tspan><tspan x="307" dy="29.3">number[38]</tspan><tspan x="307" dy="29.3">number[38]</tspan><tspan x="307" dy="29.3">number[38]</tspan><tspan x="307" dy="29.3">number[38]</tspan><tspan x="307" dy="29.3">number[38]</tspan><tspan x="307" dy="29.3">number[38]</tspan><tspan x="307" dy="29.3">number[38]</tspan><tspan x="307" dy="29.3">number[38]</tspan><tspan x="307" dy="29.3">number[38]</tspan><tspan x="307" dy="29.3">char[1]</tspan></text>
<text class="f" x="6" y="866.7">&lt; 24</text><text class="f e" x="386" y="866.7">0 &gt;</text>
</g>

<g id="t-rqmnt_transfer" transform="translate(1164 2819.5)">
<rect class="bx" width="312" height="721.9"/><rect class="hd" width="312" height="29.3"/>
<text class="tn" x="8" y="20">RQMNT_TRANSFER</text><text class="tt" x="305" y="20">[table]</text>
<path class="rl" d="M0 29.3h312m-312 29.3h312m-312 29.3h312m-312 29.3h312m-312 29.3h312m-312 29.3h312m-312 29.3h312m-312 29.3h312m-312 29.3h312m-312 29.3h312m-312 29.3h312m-312 29.3h312m-312 29.3h312m-312 29.3h312m-312 29.3h312m-312 29.3h312m-312 29.3h312m-312 29.3h312m-312 29.3h312m-312 29.3h312m-312 29.3h312m-312 29.3h312m-312 29.3h312M0 697.9h312M150 697.9v24M225 697.9v24"/>
<use href="#kp" x="15" y="43.95"/><use href="#kf" x="15" y="73.25"/><use href="#kf" x="15" y="102.55"/><use href="#kf" x="15" y="131.85"/><use href="#kf" x="15" y="161.15"/><use href="#kf" x="15" y="190.45"/><use href="#kf" x="15" y="219.75"/><use href="#kf" x="15" y="249.05"/><use href="#kf" x="15" y="278.35"/><use href="#kf" x="15" y="307.65"/><use href="#kf" x="15" y="336.95"/><use href="#kf" x="15" y="366.25"/><use href="#kf" x="15" y="395.55"/><use href="#kf" x="15" y="424.85"/><use href="#kf" x="15" y="454.15"/><use href="#kf" x="15" y="483.45"/><use href="#kf" x="15" y="512.75"/><use href="#kf" x="15" y="542.05"/><use href="#kf" x="15" y="571.35"/><use href="#kf" x="15" y="629.95"/><use href="#kf" x="15" y="659.25"/>
<text class="c"><tspan x="27" y="48.95">RQMNT_TRANSFER_ID</tspan><tspan x="27" dy="29.3">OFFENDER_ID</tspan><tspan x="27" dy="29.3">RQMNT_ID</tspan><tspan x="27" dy="29.3">TRANSFER_STATUS_ID</tspan><tspan x="27" dy="29.3">ACCEPTED_DECISION_ID</tspan><tspan x="27" dy="29.3">REJECTION_REASON_ID</tspan><tspan x="27" dy="29.3">ORIGIN_TEAM_ID</tspan><tspan x="27" dy="29.3">ORIGIN_STAFF_ID</tspan><tspan x="27" dy="29.3">RECEIVING_TEAM_ID</tspan><tspan x="27" dy="29.3">RECEIVING_STAFF_ID</tspan><tspan x="27" dy="29.3">ORIGIN_PROVIDER_TEAM_ID</tspan><tspan x="27" dy="29.3">ORIGIN_PROVIDER_EMPLOYEE_ID</tspan><tspan x="27" dy="29.3">RECEIVING_PROVIDER_TEAM_ID</tspan><tspan x="27" dy="29.3">RECEIVING_PROVIDER_EMPLOYEE_ID</tspan><tspan x="27" dy="29.3">ALLOCATION_REASON_ID</tspan><tspan x="27" dy="29.3">TRANSFER_REASON_ID</tspan><tspan x="27" dy="29.3">PARTITION_AREA_ID</tspan><tspan x="27" dy="29.3">CREATED_BY_USER_ID</tspan><tspan x="27" dy="29.3">LAST_UPDATED_USER_ID</tspan><tspan x="27" dy="29.3">TRAINING_SESSION_ID</tspan><tspan x="27" dy="29.3">WITHDRAWAL_REASON_ID</tspan><tspan x="27" dy="29.3">MASTER_TRANSFER_ID</tspan></text>
<text class="f" x="6" y="689.9">...</text><text class="f" x="5" y="714.9">&lt; 18</text><text class="f e" x="307" y="714.9">2 &gt;</text>
</g>

<g id="t-staff" transform="translate(806 3120)">
<rect class="bx" width="233" height="428.9"/><rect class="hd" width="233" height="29.3"/>
<text class="tn" x="8" y="20">STAFF</text><text class="tt" x="226" y="20">[table]</text>
<path class="rl" d="M0 29.3h233m-233 29.3h233m-233 29.3h233m-233 29.3h233m-233 29.3h233m-233 29.3h233m-233 29.3h233m-233 29.3h233m-233 29.3h233m-233 29.3h233m-233 29.3h233m-233 29.3h233m-233 29.3h233M0 404.9h233M104 404.9v24M158 404.9v24"/>
<use href="#kp" x="15" y="43.95"/><use href="#kf" x="15" y="161.15"/><use href="#kf" x="15" y="190.45"/><use href="#kf" x="15" y="249.05"/><use href="#kf" x="15" y="278.35"/><use href="#kf" x="15" y="336.95"/><use href="#kf" x="15" y="366.25"/>
<text class="c"><tspan x="27" y="48.95">STAFF_ID</tspan><tspan x="27" dy="29.3">SURNAME</tspan><tspan x="27" dy="29.3">FORENAME</tspan><tspan x="27" dy="29.3">FORENAME2</tspan><tspan x="27" dy="29.3">STAFF_GRADE_ID</tspan><tspan x="27" dy="29.3">TITLE_ID</tspan><tspan x="27" dy="29.3">OFFICER_CODE</tspan><tspan x="27" dy="29.3">CREATED_BY_USER_ID</tspan><tspan x="27" dy="29.3">LAST_UPDATED_USER_ID</tspan><tspan x="27" dy="29.3">TRAINING_SESSION_ID</tspan><tspan x="27" dy="29.3">SC_PROVIDER_ID</tspan><tspan x="27" dy="29.3">PROBATION_AREA_ID</tspan></text>
<text class="f" x="6" y="396.9">...</text><text class="f" x="5" y="421.9">&lt; 4</text><text class="f e" x="228" y="421.9">58 &gt;</text>
</g>

<g id="t-offender" transform="translate(382.5 3112.5)">
<rect class="bx" width="310" height="1278.6"/><rect class="hd" width="310" height="29.3"/>
<text class="tn" x="8" y="20">OFFENDER</text><text class="tt" x="303" y="20">[table]</text>
<path class="rl" d="M0 29.3h310m-310 29.3h310m-310 29.3h310m-310 29.3h310m-310 29.3h310m-310 29.3h310m-310 29.3h310m-310 29.3h310m-310 29.3h310m-310 29.3h310m-310 29.3h310m-310 29.3h310m-310 29.3h310m-310 29.3h310m-310 29.3h310m-310 29.3h310m-310 29.3h310m-310 29.3h310m-310 29.3h310m-310 29.3h310m-310 29.3h310m-310 29.3h310m-310 29.3h310m-310 29.3h310m-310 29.3h310m-310 29.3h310m-310 29.3h310m-310 29.3h310m-310 29.3h310m-310 29.3h310m-310 29.3h310m-310 29.3h310m-310 29.3h310m-310 29.3h310m-310 29.3h310m-310 29.3h310m-310 29.3h310m-310 29.3h310m-310 29.3h310m-310 29.3h310m-310 29.3h310M0 1254.6h310M142 1254.6v24M212 1254.6v24"/>
<use href="#kp" x="15" y="43.95"/><use href="#kf" x="15" y="395.55"/><use href="#kf" x="15" y="454.15"/><use href="#kf" x="15" y="483.45"/><use href="#kf" x="15" y="512.75"/><use href="#kf" x="15" y="542.05"/><use href="#kf" x="15" y="571.35"/><use href="#kf" x="15" y="600.65"/><use href="#kf" x="15" y="629.95"/><use href="#kf" x="15" y="688.55"/><use href="#kf" x="15" y="717.85"/><use href="#kf" x="15" y="776.45"/><use href="#kf" x="15" y="805.75"/><use href="#kf" x="15" y="952.25"/><use href="#kf" x="15" y="981.55"/><use href="#kf" x="15" y="1010.85"/><use href="#kf" x="15" y="1040.15"/><use href="#kf" x="15" y="1069.45"/><use href="#kf" x="15" y="1128.05"/><use href="#kf" x="15" y="1157.35"/><use href="#kf" x="15" y="1186.65"/>
<text class="c"><tspan x="27" y="48.95">OFFENDER_ID</tspan><tspan x="27" dy="29.3">FIRST_NAME</tspan><tspan x="27" dy="29.3">CRN</tspan><tspan x="27" dy="29.3">SECOND_NAME</tspan><tspan x="27" dy="29.3">PNC_NUMBER</tspan><tspan x="27" dy="29.3">THIRD_NAME</tspan><tspan x="27" dy="29.3">CRO_NUMBER</tspan><tspan x="27" dy="29.3">SURNAME</tspan><tspan x="27" dy="29.3">NOMS_NUMBER</tspan><tspan x="27" dy="29.3">DATE_OF_BIRTH_DATE</tspan><tspan x="27" dy="29.3">NI_NUMBER</tspan><tspan x="27" dy="29.3">IMMIGRATION_NUMBER</tspan><tspan x="27" dy="29.3">PARTITION_AREA_ID</tspan><tspan x="27" dy="29.3">SOFT_DELETED</tspan><tspan x="27" dy="29.3">TITLE_ID</tspan><tspan x="27" dy="29.3">GENDER_ID</tspan><tspan x="27" dy="29.3">ETHNICITY_ID</tspan><tspan x="27" dy="29.3">NATIONALITY_ID</tspan><tspan x="27" dy="29.3">IMMIGRATION_STATUS_ID</tspan><tspan x="27" dy="29.3">LANGUAGE_ID</tspan><tspan x="27" dy="29.3">RELIGION_ID</tspan><tspan x="27" dy="29.3">SURNAME_SOUNDEX</tspan><tspan x="27" dy="29.3">SECOND_NATIONALITY_ID</tspan><tspan x="27" dy="29.3">SEXUAL_ORIENTATION_ID</tspan><tspan x="27" dy="29.3">CURRENT_EXCLUSION</tspan><tspan x="27" dy="29.3">CREATED_BY_USER_ID</tspan><tspan x="27" dy="29.3">LAST_UPDATED_USER_ID</tspan><tspan x="27" dy="29.3">TRAINING_SESSION_ID</tspan><tspan x="27" dy="29.3">CURRENT_DISPOSAL</tspan><tspan x="27" dy="29.3">CURRENT_HIGHEST_RISK_COLOUR</tspan><tspan x="27" dy="29.3">CURRENT_RESTRICTION</tspan><tspan x="27" dy="29.3">INSTITUTION_ID</tspan><tspan x="27" dy="29.3">ESTABLISHMENT</tspan><tspan x="27" dy="29.3">CURRENT_TIER</tspan><tspan x="27" dy="29.3">OM_ALLOCATION_DECISION_ID</tspan><tspan x="27" dy="29.3">TRANSGENDER_PROCESS_ID</tspan><tspan x="27" dy="29.3">PREFERRED_NAME</tspan><tspan x="27" dy="29.3">GENDER_IDENTITY_ID</tspan><tspan x="27" dy="29.3">DISABILITY_ANSWER_ID</tspan><tspan x="27" dy="29.3">MEDICAL_CONDITION_ID</tspan><tspan x="27" dy="29.3">DEFENDANT_ID</tspan></text>
<text class="f" x="6" y="1246.6">...</text><text class="f" x="5" y="1271.6">&lt; 18</text><text class="f e" x="305" y="1271.6">100 &gt;</text>
</g>

<g id="t-r_standard_reference_list" transform="translate(19.3 3700)">
<rect class="bx" width="297.5" height="253.1"/><rect class="hd" width="297.5" height="29.3"/>
<text class="tn" x="8" y="20">R_STANDARD_REFERENCE_LIST</text><text class="tt" x="290.5" y="20">[table]</text>
<path class="rl" d="M0 29.3h297.5m-297.5 29.3h297.5m-297.5 29.3h297.5m-297.5 29.3h297.5m-297.5 29.3h297.5m-297.5 29.3h297.5m-297.5 29.3h297.5M0 229.1h297.5M132 229.1v24M200 229.1v24"/>
<use href="#kp" x="15" y="43.95"/><use href="#kf" x="15" y="102.55"/><use href="#kf" x="15" y="131.85"/><use href="#kf" x="15" y="161.15"/>
<text class="c"><tspan x="41" y="48.95">STANDARD_REFERENCE_LIST_ID</tspan><tspan x="41" dy="29.3">CODE_VALUE</tspan><tspan x="41" dy="29.3">CREATED_BY_USER_ID</tspan><tspan x="41" dy="29.3">LAST_UPDATED_USER_ID</tspan><tspan x="41" dy="29.3">REFERENCE_DATA_MASTER_ID</tspan><tspan x="41" dy="29.3">TRAINING_SESSION_ID</tspan></text>
<text class="f" x="6" y="221.1">...</text><text class="f" x="5" y="246.1">&lt; 1</text><text class="f e" x="292.5" y="246.1">325 &gt;</text>
</g>

<g id="t-master_transfer" transform="translate(806 3648.7)">
<rect class="bx" width="233" height="282.4"/><rect class="hd" width="233" height="29.3"/>
<text class="tn" x="8" y="20">MASTER_TRANSFER</text><text class="tt" x="226" y="20">[table]</text>
<path class="rl" d="M0 29.3h233m-233 29.3h233m-233 29.3h233m-233 29.3h233m-233 29.3h233m-233 29.3h233m-233 29.3h233m-233 29.3h233M0 258.4h233M108 258.4v24M164 258.4v24"/>
<use href="#kp" x="15" y="43.95"/><use href="#kf" x="15" y="73.25"/><use href="#kf" x="15" y="102.55"/><use href="#kf" x="15" y="131.85"/><use href="#kf" x="15" y="161.15"/><use href="#kf" x="15" y="190.45"/><use href="#kf" x="15" y="219.75"/>
<text class="c"><tspan x="27" y="48.95">MASTER_TRANSFER_ID</tspan><tspan x="27" dy="29.3">OFFENDER_ID</tspan><tspan x="27" dy="29.3">TRANSFER_USER_ID</tspan><tspan x="27" dy="29.3">TRANSFER_STATUS_ID</tspan><tspan x="27" dy="29.3">TARGET_PROVIDER_ID</tspan><tspan x="27" dy="29.3">CREATED_BY_USER_ID</tspan><tspan x="27" dy="29.3">LAST_UPDATED_USER_ID</tspan></text>
<text class="f" x="6" y="250.4">...</text><text class="f" x="5" y="275.4">&lt; 3</text><text class="f e" x="228" y="275.4">9 &gt;</text>
</g>

<g id="t-lic_condition_transfer" transform="translate(1164 3735.8)">
<rect class="bx" width="312" height="721.9"/><rect class="hd" width="312" height="29.3"/>
<text class="tn" x="8" y="20">LIC_CONDITION_TRANSFER</text><text class="tt" x="305" y="20">[table]</text>
<path class="rl" d="M0 29.3h312m-312 29.3h312m-312 29.3h312m-312 29.3h312m-312 29.3h312m-312 29.3h312m-312 29.3h312m-312 29.3h312m-312 29.3h312m-312 29.3h312m-312 29.3h312m-312 29.3h312m-312 29.3h312m-312 29.3h312m-312 29.3h312m-312 29.3h312m-312 29.3h312m-312 29.3h312m-312 29.3h312m-312 29.3h312m-312 29.3h312m-312 29.3h312m-312 29.3h312M0 697.9h312M150 697.9v24M225 697.9v24"/>
<use href="#kp" x="15" y="43.95"/><use href="#kf" x="15" y="73.25"/><use href="#kf" x="15" y="102.55"/><use href="#kf" x="15" y="131.85"/><use href="#kf" x="15" y="161.15"/><use href="#kf" x="15" y="190.45"/><use href="#kf" x="15" y="219.75"/><use href="#kf" x="15" y="249.05"/><use href="#kf" x="15" y="278.35"/><use href="#kf" x="15" y="307.65"/><use href="#kf" x="15" y="336.95"/><use href="#kf" x="15" y="366.25"/><use href="#kf" x="15" y="395.55"/><use href="#kf" x="15" y="424.85"/><use href="#kf" x="15" y="454.15"/><use href="#kf" x="15" y="483.45"/><use href="#kf" x="15" y="512.75"/><use href="#kf" x="15" y="542.05"/><use href="#kf" x="15" y="571.35"/><use href="#kf" x="15" y="629.95"/><use href="#kf" x="15" y="659.25"/>
<text class="c"><tspan x="27" y="48.95">LIC_CONDITION_TRANSFER_ID</tspan><tspan x="27" dy="29.3">OFFENDER_ID</tspan><tspan x="27" dy="29.3">LIC_CONDITION_ID</tspan><tspan x="27" dy="29.3">TRANSFER_STATUS_ID</tspan><tspan x="27" dy="29.3">ACCEPTED_DECISION_ID</tspan><tspan x="27" dy="29.3">REJECTION_REASON_ID</tspan><tspan x="27" dy="29.3">ORIGIN_TEAM_ID</tspan><tspan x="27" dy="29.3">ORIGIN_STAFF_ID</tspan><tspan x="27" dy="29.3">RECEIVING_TEAM_ID</tspan><tspan x="27" dy="29.3">RECEIVING_STAFF_ID</tspan><tspan x="27" dy="29.3">ORIGIN_PROVIDER_TEAM_ID</tspan><tspan x="27" dy="29.3">ORIGIN_PROVIDER_EMPLOYEE_ID</tspan><tspan x="27" dy="29.3">RECEIVING_PROVIDER_TEAM_ID</tspan><tspan x="27" dy="29.3">RECEIVING_PROVIDER_EMPLOYEE_ID</tspan><tspan x="27" dy="29.3">ALLOCATION_REASON_ID</tspan><tspan x="27" dy="29.3">TRANSFER_REASON_ID</tspan><tspan x="27" dy="29.3">PARTITION_AREA_ID</tspan><tspan x="27" dy="29.3">CREATED_BY_USER_ID</tspan><tspan x="27" dy="29.3">LAST_UPDATED_USER_ID</tspan><tspan x="27" dy="29.3">TRAINING_SESSION_ID</tspan><tspan x="27" dy="29.3">WITHDRAWAL_REASON_ID</tspan><tspan x="27" dy="29.3">MASTER_TRANSFER_ID</tspan></text>
<text class="f" x="6" y="689.9">...</text><text class="f" x="5" y="714.9">&lt; 18</text><text class="f e" x="307" y="714.9">2 &gt;</text>
</g>

<g id="t-lic_condition" transform="translate(788.5 4390.6)">
<rect class="bx" width="267.5" height="604.7"/><rect class="hd" width="267.5" height="29.3"/>
<text class="tn" x="8" y="20">LIC_CONDITION</text><text class="tt" x="260.5" y="20">[table]</text>
<path class="rl" d="M0 29.3h267.5m-267.5 29.3h267.5m-267.5 29.3h267.5m-267.5 29.3h267.5m-267.5 29.3h267.5m-267.5 29.3h267.5m-267.5 29.3h267.5m-267.5 29.3h267.5m-267.5 29.3h267.5m-267.5 29.3h267.5m-267.5 29.3h267.5m-267.5 29.3h267.5m-267.5 29.3h267.5m-267.5 29.3h267.5m-267.5 29.3h267.5m-267.5 29.3h267.5m-267.5 29.3h267.5m-267.5 29.3h267.5m-267.5 29.3h267.5M0 580.7h267.5M125 580.7v24M191 580.7v24"/>
<use href="#kp" x="15" y="43.95"/><use href="#kf" x="15" y="73.25"/><use href="#kf" x="15" y="190.45"/><use href="#kf" x="15" y="249.05"/><use href="#kf" x="15" y="307.65"/><use href="#kf" x="15" y="336.95"/><use href="#kf" x="15" y="366.25"/><use href="#kf" x="15" y="395.55"/><use href="#kf" x="15" y="424.85"/><use href="#kf" x="15" y="454.15"/><use href="#kf" x="15" y="512.75"/>
<text class="c"><tspan x="27" y="48.95">LIC_CONDITION_ID</tspan><tspan x="27" dy="29.3">DISPOSAL_ID</tspan><tspan x="27" dy="29.3">START_DATE</tspan><tspan x="27" dy="29.3">COMMENCEMENT_DATE</tspan><tspan x="27" dy="29.3">TERMINATION_DATE</tspan><tspan x="27" dy="29.3">PARTITION_AREA_ID</tspan><tspan x="27" dy="29.3">SOFT_DELETED</tspan><tspan x="27" dy="29.3">LIC_COND_TYPE_SUB_CAT_ID</tspan><tspan x="27" dy="29.3">CREATED_DATETIME</tspan><tspan x="27" dy="29.3">INSTITUTION_ID</tspan><tspan x="27" dy="29.3">ESTABLISHMENT</tspan><tspan x="27" dy="29.3">CREATED_BY_USER_ID</tspan><tspan x="27" dy="29.3">LIC_COND_TYPE_MAIN_CAT_ID</tspan><tspan x="27" dy="29.3">LAST_UPDATED_USER_ID</tspan><tspan x="27" dy="29.3">LIC_TERMINATION_REASON_ID</tspan><tspan x="27" dy="29.3">TRAINING_SESSION_ID</tspan><tspan x="27" dy="29.3">OFFENDER_ID</tspan><tspan x="27" dy="29.3">ACTIVE_FLAG</tspan></text>
<text class="f" x="6" y="572.7">...</text><text class="f" x="5" y="597.7">&lt; 8</text><text class="f e" x="262.5" y="597.7">5 &gt;</text>
</g>

<g id="t-pss_rqmnt_transfer" transform="translate(1200 4521.6)">
<rect class="bx" width="239.5" height="487.5"/><rect class="hd" width="239.5" height="29.3"/>
<text class="tn" x="8" y="20">PSS_RQMNT_TRANSFER</text><text class="tt" x="232.5" y="20">[table]</text>
<path class="rl" d="M0 29.3h239.5m-239.5 29.3h239.5m-239.5 29.3h239.5m-239.5 29.3h239.5m-239.5 29.3h239.5m-239.5 29.3h239.5m-239.5 29.3h239.5m-239.5 29.3h239.5m-239.5 29.3h239.5m-239.5 29.3h239.5m-239.5 29.3h239.5m-239.5 29.3h239.5m-239.5 29.3h239.5m-239.5 29.3h239.5m-239.5 29.3h239.5M0 463.5h239.5M114.5 463.5v24M171 463.5v24"/>
<use href="#kp" x="14" y="43.95"/><use href="#kf" x="14" y="73.25"/><use href="#kf" x="14" y="102.55"/><use href="#kf" x="14" y="131.85"/><use href="#kf" x="14" y="161.15"/><use href="#kf" x="14" y="190.45"/><use href="#kf" x="14" y="219.75"/><use href="#kf" x="14" y="249.05"/><use href="#kf" x="14" y="278.35"/><use href="#kf" x="14" y="307.65"/><use href="#kf" x="14" y="336.95"/><use href="#kf" x="14" y="366.25"/><use href="#kf" x="14" y="395.55"/><use href="#kf" x="14" y="424.85"/>
<text class="c"><tspan x="29" y="48.95">PSS_RQMNT_TRANSFER_ID</tspan><tspan x="29" dy="29.3">OFFENDER_ID</tspan><tspan x="29" dy="29.3">PSS_RQMNT_ID</tspan><tspan x="29" dy="29.3">TRANSFER_STATUS_ID</tspan><tspan x="29" dy="29.3">ACCEPTED_DECISION_ID</tspan><tspan x="29" dy="29.3">REJECTION_REASON_ID</tspan><tspan x="29" dy="29.3">ORIGIN_TEAM_ID</tspan><tspan x="29" dy="29.3">ORIGIN_STAFF_ID</tspan><tspan x="29" dy="29.3">RECEIVING_TEAM_ID</tspan><tspan x="29" dy="29.3">RECEIVING_STAFF_ID</tspan><tspan x="29" dy="29.3">ALLOCATION_REASON_ID</tspan><tspan x="29" dy="29.3">TRANSFER_REASON_ID</tspan><tspan x="29" dy="29.3">WITHDRAWAL_REASON_ID</tspan><tspan x="29" dy="29.3">MASTER_TRANSFER_ID</tspan></text>
<text class="f" x="6" y="455.5">...</text><text class="f" x="5" y="480.5">&lt; 13</text><text class="f e" x="234.5" y="480.5">2 &gt;</text>
</g>

<g id="t-pss_rqmnt" transform="translate(783 5024)">
<rect class="bx" width="279" height="253.1"/><rect class="hd" width="279" height="29.3"/>
<text class="tn" x="8" y="20">PSS_RQMNT</text><text class="tt" x="272" y="20">[table]</text>
<path class="rl" d="M0 29.3h279m-279 29.3h279m-279 29.3h279m-279 29.3h279m-279 29.3h279m-279 29.3h279m-279 29.3h279M0 229.1h279M131 229.1v24M199 229.1v24"/>
<use href="#kp" x="15" y="43.95"/><use href="#kf" x="15" y="73.25"/><use href="#kf" x="15" y="102.55"/><use href="#kf" x="15" y="131.85"/><use href="#kf" x="15" y="161.15"/><use href="#kf" x="15" y="190.45"/>
<text class="c"><tspan x="27" y="48.95">PSS_RQMNT_ID</tspan><tspan x="27" dy="29.3">CUSTODY_ID</tspan><tspan x="27" dy="29.3">PSS_RQMNT_TYPE_MAIN_CAT_ID</tspan><tspan x="27" dy="29.3">PSS_RQMNT_TYPE_SUB_CAT_ID</tspan><tspan x="27" dy="29.3">PSS_RQMNT_TERM_REASON_ID</tspan><tspan x="27" dy="29.3">OFFENDER_ID</tspan></text>
<text class="f" x="6" y="221.1">...</text><text class="f" x="5" y="246.1">&lt; 5</text><text class="f e" x="274" y="246.1">5 &gt;</text>
</g>

<g id="t-institutional_report" transform="translate(788.5 5522)">
<rect class="bx" width="267.5" height="487.5"/><rect class="hd" width="267.5" height="29.3"/>
<text class="tn" x="8" y="20">INSTITUTIONAL_REPORT</text><text class="tt" x="260.5" y="20">[table]</text>
<path class="rl" d="M0 29.3h267.5m-267.5 29.3h267.5m-267.5 29.3h267.5m-267.5 29.3h267.5m-267.5 29.3h267.5m-267.5 29.3h267.5m-267.5 29.3h267.5m-267.5 29.3h267.5m-267.5 29.3h267.5m-267.5 29.3h267.5m-267.5 29.3h267.5m-267.5 29.3h267.5m-267.5 29.3h267.5m-267.5 29.3h267.5m-267.5 29.3h267.5M0 463.5h267.5M125 463.5v24M191 463.5v24"/>
<use href="#kp" x="15" y="43.95"/><use href="#kf" x="15" y="73.25"/><use href="#kf" x="15" y="190.45"/><use href="#kf" x="15" y="219.75"/><use href="#kf" x="15" y="278.35"/><use href="#kf" x="15" y="307.65"/><use href="#kf" x="15" y="336.95"/><use href="#kf" x="15" y="366.25"/><use href="#kf" x="15" y="424.85"/>
<text class="c"><tspan x="27" y="48.95">INSTITUTIONAL_REPORT_ID</tspan><tspan x="27" dy="29.3">CUSTODY_ID</tspan><tspan x="27" dy="29.3">DATE_REQUIRED</tspan><tspan x="27" dy="29.3">DATE_COMPLETED</tspan><tspan x="27" dy="29.3">SOFT_DELETED</tspan><tspan x="27" dy="29.3">PARTITION_AREA_ID</tspan><tspan x="27" dy="29.3">INSTITUTION_REPORT_TYPE_ID</tspan><tspan x="27" dy="29.3">CREATED_DATETIME</tspan><tspan x="27" dy="29.3">INSTITUTION_ID</tspan><tspan x="27" dy="29.3">CREATED_BY_USER_ID</tspan><tspan x="27" dy="29.3">ESTABLISHMENT</tspan><tspan x="27" dy="29.3">LAST_UPDATED_USER_ID</tspan><tspan x="27" dy="29.3">TRAINING_SESSION_ID</tspan><tspan x="27" dy="29.3">OFFENDER_ID</tspan></text>
<text class="f" x="6" y="455.5">...</text><text class="f" x="5" y="480.5">&lt; 6</text><text class="f e" x="262.5" y="480.5">4 &gt;</text>
</g>

<g id="t-institutional_report_transfer" transform="translate(1151.7 5463)">
<rect class="bx" width="337" height="487.5"/><rect class="hd" width="337" height="29.3"/>
<text class="tn" x="8" y="20">INSTITUTIONAL_REPORT_TRANSFER</text><text class="tt" x="330" y="20">[table]</text>
<path class="rl" d="M0 29.3h337m-337 29.3h337m-337 29.3h337m-337 29.3h337m-337 29.3h337m-337 29.3h337m-337 29.3h337m-337 29.3h337m-337 29.3h337m-337 29.3h337m-337 29.3h337m-337 29.3h337m-337 29.3h337m-337 29.3h337m-337 29.3h337M0 463.5h337M164 463.5v24M244.5 463.5v24"/>
<use href="#kp" x="14.5" y="43.95"/><use href="#kf" x="14.5" y="73.25"/><use href="#kf" x="14.5" y="102.55"/><use href="#kf" x="14.5" y="131.85"/><use href="#kf" x="14.5" y="161.15"/><use href="#kf" x="14.5" y="190.45"/><use href="#kf" x="14.5" y="219.75"/><use href="#kf" x="14.5" y="249.05"/><use href="#kf" x="14.5" y="278.35"/><use href="#kf" x="14.5" y="307.65"/><use href="#kf" x="14.5" y="336.95"/><use href="#kf" x="14.5" y="366.25"/><use href="#kf" x="14.5" y="395.55"/><use href="#kf" x="14.5" y="424.85"/>
<text class="c"><tspan x="43" y="48.95">INSTITUTIONAL_REP_TRANSFER_ID</tspan><tspan x="43" dy="29.3">OFFENDER_ID</tspan><tspan x="43" dy="29.3">INSTITUTIONAL_REPORT_ID</tspan><tspan x="43" dy="29.3">TRANSFER_STATUS_ID</tspan><tspan x="43" dy="29.3">ACCEPTED_DECISION_ID</tspan><tspan x="43" dy="29.3">REJECTION_REASON_ID</tspan><tspan x="43" dy="29.3">ORIGIN_TEAM_ID</tspan><tspan x="43" dy="29.3">ORIGIN_STAFF_ID</tspan><tspan x="43" dy="29.3">RECEIVING_TEAM_ID</tspan><tspan x="43" dy="29.3">RECEIVING_STAFF_ID</tspan><tspan x="43" dy="29.3">ALLOCATION_REASON_ID</tspan><tspan x="43" dy="29.3">TRANSFER_REASON_ID</tspan><tspan x="43" dy="29.3">WITHDRAWAL_REASON_ID</tspan><tspan x="43" dy="29.3">MASTER_TRANSFER_ID</tspan></text>
<text class="f" x="6" y="455.5">...</text><text class="f" x="5" y="480.5">&lt; 13</text><text class="f e" x="332" y="480.5">2 &gt;</text>
</g>

<g id="t-court_report_transfer" transform="translate(1185 6040)">
<rect class="bx" width="269" height="546.1"/><rect class="hd" width="269" height="29.3"/>
<text class="tn" x="8" y="20">COURT_REPORT_TRANSFER</text><text class="tt" x="262" y="20">[table]</text>
<path class="rl" d="M0 29.3h269m-269 29.3h269m-269 29.3h269m-269 29.3h269m-269 29.3h269m-269 29.3h269m-269 29.3h269m-269 29.3h269m-269 29.3h269m-269 29.3h269m-269 29.3h269m-269 29.3h269m-269 29.3h269m-269 29.3h269m-269 29.3h269m-269 29.3h269m-269 29.3h269M0 522.1h269M129.5 522.1v24M193 522.1v24"/>
<use href="#kp" x="14.5" y="43.95"/><use href="#kf" x="14.5" y="73.25"/><use href="#kf" x="14.5" y="102.55"/><use href="#kf" x="14.5" y="131.85"/><use href="#kf" x="14.5" y="161.15"/><use href="#kf" x="14.5" y="190.45"/><use href="#kf" x="14.5" y="219.75"/><use href="#kf" x="14.5" y="249.05"/><use href="#kf" x="14.5" y="278.35"/><use href="#kf" x="14.5" y="307.65"/><use href="#kf" x="14.5" y="336.95"/><use href="#kf" x="14.5" y="366.25"/><use href="#kf" x="14.5" y="395.55"/><use href="#kf" x="14.5" y="424.85"/><use href="#kf" x="14.5" y="454.15"/><use href="#kf" x="14.5" y="483.45"/>
<text class="c"><tspan x="31" y="48.95">COURT_REPORT_TRANSFER_ID</tspan><tspan x="31" dy="29.3">OFFENDER_ID</tspan><tspan x="31" dy="29.3">COURT_REPORT_ID</tspan><tspan x="31" dy="29.3">TRANSFER_STATUS_ID</tspan><tspan x="31" dy="29.3">ACCEPTED_DECISION_ID</tspan><tspan x="31" dy="29.3">REJECTED_REASON_ID</tspan><tspan x="31" dy="29.3">ORIGIN_TEAM_ID</tspan><tspan x="31" dy="29.3">ORIGIN_STAFF_ID</tspan><tspan x="31" dy="29.3">RECEIVING_TEAM_ID</tspan><tspan x="31" dy="29.3">RECEIVING_STAFF_ID</tspan><tspan x="31" dy="29.3">ALLOCATION_REASON_ID</tspan><tspan x="31" dy="29.3">TRANSFER_REASON_ID</tspan><tspan x="31" dy="29.3">CREATED_BY_USER_ID</tspan><tspan x="31" dy="29.3">LAST_UPDATED_USER_ID</tspan><tspan x="31" dy="29.3">WITHDRAWAL_REASON_ID</tspan><tspan x="31" dy="29.3">MASTER_TRANSFER_ID</tspan></text>
<text class="f" x="6" y="514.1">...</text><text class="f" x="5" y="539.1">&lt; 13</text><text class="f e" x="264" y="539.1">2 &gt;</text>
</g>

<g id="t-court_report" transform="translate(765.5 6541.5)">
<rect class="bx" width="312" height="634"/><rect class="hd" width="312" height="29.3"/>
<text class="tn" x="8" y="20">COURT_REPORT</text><text class="tt" x="305" y="20">[table]</text>
<path class="rl" d="M0 29.3h312m-312 29.3h312m-312 29.3h312m-312 29.3h312m-312 29.3h312m-312 29.3h312m-312 29.3h312m-312 29.3h312m-312 29.3h312m-312 29.3h312m-312 29.3h312m-312 29.3h312m-312 29.3h312m-312 29.3h312m-312 29.3h312m-312 29.3h312m-312 29.3h312m-312 29.3h312m-312 29.3h312m-312 29.3h312M0 610h312M151 610v24M225.5 610v24"/>
<use href="#kp" x="14.5" y="43.95"/><use href="#kf" x="14.5" y="73.25"/><use href="#kf" x="14.5" y="219.75"/><use href="#kf" x="14.5" y="249.05"/><use href="#kf" x="14.5" y="278.35"/><use href="#kf" x="14.5" y="336.95"/><use href="#kf" x="14.5" y="366.25"/><use href="#kf" x="14.5" y="395.55"/><use href="#kf" x="14.5" y="424.85"/><use href="#kf" x="14.5" y="483.45"/><use href="#kf" x="14.5" y="512.75"/><use href="#kf" x="14.5" y="542.05"/><use href="#kf" x="14.5" y="571.35"/>
<text class="c"><tspan x="28" y="48.95">COURT_REPORT_ID</tspan><tspan x="28" dy="29.3">COURT_APPEARANCE_ID</tspan><tspan x="28" dy="29.3">DATE_REQUESTED</tspan><tspan x="28" dy="29.3">DATE_REQUIRED</tspan><tspan x="28" dy="29.3">COMPLETED_DATE</tspan><tspan x="28" dy="29.3">SOFT_DELETED</tspan><tspan x="28" dy="29.3">PARTITION_AREA_ID</tspan><tspan x="28" dy="29.3">LEVEL_OF_SERIOUSNESS_ID</tspan><tspan x="28" dy="29.3">DELIVERED_REPORT_REASON_ID</tspan><tspan x="28" dy="29.3">CREATED_DATETIME</tspan><tspan x="28" dy="29.3">COURT_REPORT_TYPE_ID</tspan><tspan x="28" dy="29.3">CREATED_BY_USER_ID</tspan><tspan x="28" dy="29.3">DELIVERED_COURT_REPORT_TYPE_ID</tspan><tspan x="28" dy="29.3">LAST_UPDATED_USER_ID</tspan><tspan x="28" dy="29.3">TRAINING_SESSION_ID</tspan><tspan x="28" dy="29.3">OFFENDER_ID</tspan><tspan x="28" dy="29.3">REQUIRED_BY_COURT_ID</tspan><tspan x="28" dy="29.3">INTERVIEW_VIA_ID</tspan><tspan x="28" dy="29.3">ADJOURNMENT_REASON_ID</tspan></text>
<text class="f" x="6" y="602">...</text><text class="f" x="5" y="627">&lt; 10</text><text class="f e" x="307" y="627">5 &gt;</text>
</g>

<text x="16" y="7217" style="font-size:14.5px">Generated by SchemaSpy</text>
</svg>
